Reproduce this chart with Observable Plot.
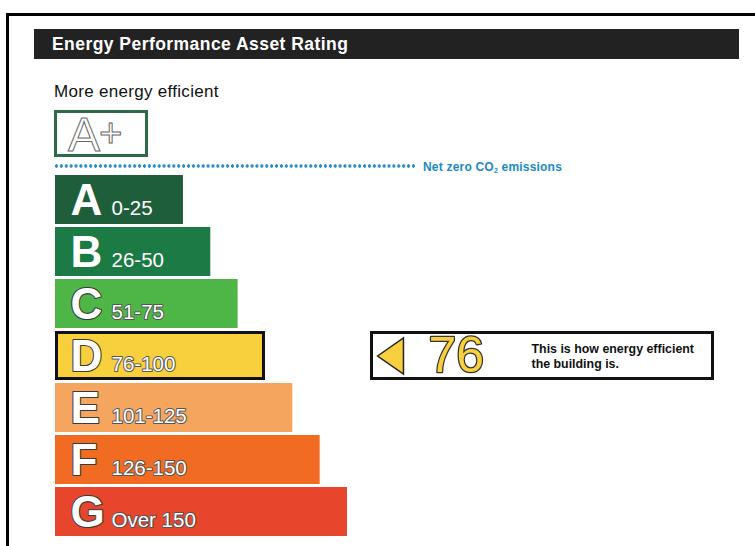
<!DOCTYPE html>
<html><head><meta charset="utf-8">
<script src="https://cdn.jsdelivr.net/npm/d3@7"></script>
<script src="https://cdn.jsdelivr.net/npm/@observablehq/plot@0.6"></script>
<style>
html,body{margin:0;padding:0;background:#fff;}
#wrap{position:relative;width:755px;height:546px;overflow:hidden;font-family:"Liberation Sans",Arial,sans-serif;}
#frame{position:absolute;left:6px;top:13px;width:800px;height:600px;border-top:3px solid #000;border-left:3px solid #000;}
#title{position:absolute;left:34px;top:29px;width:705px;height:30px;background:#222;color:#fff;font-weight:bold;font-size:17.5px;letter-spacing:0.45px;line-height:30px;padding-left:18px;box-sizing:border-box;}
#more{position:absolute;left:54px;top:84px;font-size:17px;letter-spacing:0.3px;line-height:16px;color:#111;}
#aplus{position:absolute;left:54px;top:110px;width:94px;height:47px;box-sizing:border-box;border:3px solid #2d6a45;}
#aplus span{position:absolute;left:11px;top:-4px;font-size:48px;line-height:48px;color:#fff;-webkit-text-stroke:1px #666;letter-spacing:-1px;}
#aplus span small{font-size:40px;vertical-align:4px;}
#dots{position:absolute;left:54px;top:164px;width:362px;height:4px;background:radial-gradient(circle,#2b8fc7 1.5px,transparent 1.9px) 0 0/4.9px 4px repeat-x;}
#netzero{position:absolute;left:423px;top:162px;font-size:12px;letter-spacing:0.2px;line-height:11px;font-weight:bold;color:#1b8ac4;white-space:nowrap;}
#netzero sub{font-size:7px;vertical-align:-2px;line-height:0;}
#chart{position:absolute;left:0;top:0;}
</style></head>
<body>
<div id="wrap">
  <div id="chart"></div>
  <div id="frame"></div>
  <div id="title">Energy Performance Asset Rating</div>
  <div id="more">More energy efficient</div>
  <div id="aplus"><span>A<small>+</small></span></div>
  <div id="dots"></div>
  <div id="netzero">Net zero CO<sub>2</sub> emissions</div>
</div>
<script>
const ratings = ["A", "B", "C", "D", "E", "F", "G"];
const bandLabels = ["0-25", "26-50", "51-75", "76-100", "101-125", "126-150", "Over 150"];
const bandUpper = [25, 50, 75, 100, 125, 150, 175];
const bandColors = ["#1f5e3b", "#1c7a45", "#4eb647", "#f8cf3c", "#f6a55f", "#f26b22", "#e8452d"];
const assetRating = 76;
const message = ["This is how energy efficient", "the building is."];

const scaleStart = -92;
const data = ratings.map((r, i) => ({rating: r, label: bandLabels[i], upper: bandUpper[i]}));
const current = data.find(d => assetRating <= d.upper);
const solid = d => d.rating === "A" || d.rating === "B";

const leftTriangle = {
  draw(context, size) {
    const r = Math.sqrt(size / Math.PI);
    context.moveTo(-r * 0.72, 0);
    context.lineTo(r * 0.72, -r);
    context.lineTo(r * 0.72, r);
    context.closePath();
  }
};

const chart = Plot.plot({
  width: 755,
  height: 546,
  margin: 0,
  x: {domain: [scaleStart, 175], range: [55, 347], axis: null},
  y: {type: "band", domain: ratings, range: [174, 536], paddingInner: 0.06, paddingOuter: 0, axis: null},
  color: {domain: ratings, range: bandColors},
  style: {fontFamily: "'Liberation Sans', Arial, sans-serif", background: "transparent"},
  marks: [
    Plot.barX(data, {x1: scaleStart, x2: "upper", y: "rating", fill: "rating"}),
    Plot.barX([current], {x1: scaleStart, x2: "upper", y: "rating", fill: "none", stroke: "#111", strokeWidth: 3, inset: 1.5}),
    Plot.text(data, {filter: solid, x: scaleStart, y: "rating", text: "rating", dx: 15, dy: 15, textAnchor: "start", lineAnchor: "bottom", fontSize: 44, fontWeight: "bold", fill: "white"}),
    Plot.text(data, {filter: d => !solid(d), x: scaleStart, y: "rating", text: "rating", dx: 15, dy: 15, textAnchor: "start", lineAnchor: "bottom", fontSize: 44, fontWeight: "bold", fill: "white", stroke: "#3a3a3a", strokeWidth: 2.2}),
    Plot.text(data, {filter: solid, x: scaleStart, y: "rating", text: "label", dx: 56, dy: 15, textAnchor: "start", lineAnchor: "bottom", fontSize: 20.5, fill: "white", ariaLabel: "range"}),
    Plot.text(data, {filter: d => !solid(d), x: scaleStart, y: "rating", text: "label", dx: 56, dy: 15, textAnchor: "start", lineAnchor: "bottom", fontSize: 20.5, fill: "white", stroke: "#555", strokeWidth: 2, ariaLabel: "range"}),
    Plot.cell([current], {y: "rating", fill: "white", stroke: "#111", strokeWidth: 3, insetLeft: 371.5, insetRight: 42.5, insetTop: 1.5, insetBottom: 1.5}),
    Plot.dot([current], {y: "rating", frameAnchor: "left", dx: 390, r: 18, symbol: leftTriangle, fill: "#f8cf3c", stroke: "#222", strokeWidth: 1.5}),
    Plot.text([current], {y: "rating", text: () => String(assetRating), frameAnchor: "left", dx: 428, textAnchor: "start", fontSize: 50, fill: "#f8cf3c", stroke: "#333", strokeWidth: 2.5}),
    Plot.text([current], {y: "rating", text: () => message.join("\n"), frameAnchor: "left", dx: 531, textAnchor: "start", fontSize: 12.4, fontWeight: "bold", lineHeight: 1.15, fill: "#111", ariaLabel: "message"})
  ]
});
document.getElementById("chart").appendChild(chart);
</script>
<style>g[aria-label="range"] text{letter-spacing:1.5px;} g[aria-label="message"] text{letter-spacing:0.2px;}</style>
</body></html>
